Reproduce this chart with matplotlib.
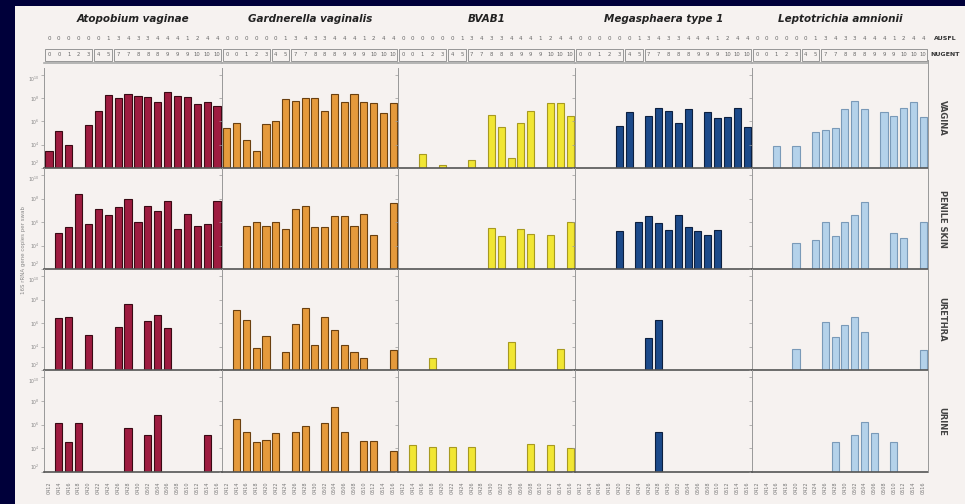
import matplotlib.pyplot as plt
from matplotlib.patches import Rectangle
import numpy as np

# organisms (columns) and sites (rows)
organisms = ['Atopobium vaginae', 'Gardnerella vaginalis', 'BVAB1',
             'Megasphaera type 1', 'Leptotrichia amnionii']
sites = ['VAGINA', 'PENILE SKIN', 'URETHRA', 'URINE']
colors = ['#9e1c40', '#e59a3c', '#f1e634', '#1c4a8a', '#b4d2ea']
edges = ['#3a0a14', '#6a4010', '#a89a20', '#0c2040', '#7a9ab8']

# header rows
amsel = [0, 0, 0, 0, 0, 0, 1, 3, 4, 3, 3, 4, 4, 4, 1, 2, 4, 4]
nugent = [0, 0, 1, 2, 3, 4, 5, 7, 7, 8, 8, 8, 9, 9, 9, 10, 10, 10]
nugent_groups = [(1, 5), (6, 7), (8, 18)]
samples = ['0412', '0414', '0416', '0418', '0420', '0422', '0424', '0426', '0428',
           '0430', '0502', '0504', '0506', '0508', '0510', '0512', '0514', '0516']

# log10 copies per sample day (day: value), missing day = not detected
atopobium = [
    {1: 3.5, 2: 5.2, 3: 4.0, 5: 5.7, 6: 6.9, 7: 8.3, 8: 8.0, 9: 8.4, 10: 8.2, 11: 8.1,
     12: 7.7, 13: 8.5, 14: 8.2, 15: 8.1, 16: 7.5, 17: 7.7, 18: 7.3},
    {2: 5.1, 3: 5.6, 4: 8.4, 5: 5.8, 6: 7.1, 7: 6.6, 8: 7.3, 9: 8.0, 10: 6.0, 11: 7.4,
     12: 6.9, 13: 7.8, 14: 5.4, 15: 6.7, 16: 5.7, 17: 5.8, 18: 7.8},
    {2: 6.4, 3: 6.5, 5: 5.0, 8: 5.7, 9: 7.6, 11: 6.2, 12: 6.7, 13: 5.6},
    {2: 6.1, 3: 4.5, 4: 6.1, 9: 5.7, 11: 5.1, 12: 6.8, 17: 5.1},
]
gardnerella = [
    {1: 5.4, 2: 5.9, 3: 4.4, 4: 3.5, 5: 5.8, 6: 6.0, 7: 7.9, 8: 7.8, 9: 8.0, 10: 8.0,
     11: 6.9, 12: 8.4, 13: 7.7, 14: 8.4, 15: 7.7, 16: 7.6, 17: 6.7, 18: 7.6},
    {3: 5.7, 4: 6.0, 5: 5.7, 6: 6.0, 7: 5.4, 8: 7.1, 9: 7.4, 10: 5.6, 11: 5.6, 12: 6.5,
     13: 6.5, 14: 5.7, 15: 6.7, 16: 4.9, 18: 7.6},
    {2: 7.1, 3: 6.3, 4: 3.9, 5: 4.9, 7: 3.5, 8: 5.9, 9: 7.3, 10: 4.1, 11: 6.5, 12: 5.4,
     13: 4.1, 14: 3.5, 15: 3.0, 18: 3.7},
    {2: 6.5, 3: 5.4, 4: 4.5, 5: 4.7, 6: 5.3, 8: 5.4, 9: 5.9, 11: 6.1, 12: 7.5, 13: 5.4,
     15: 4.6, 16: 4.6, 18: 3.8},
]
bvab1 = [
    {3: 3.2, 5: 2.3, 8: 2.7, 10: 6.6, 11: 5.5, 12: 2.9, 13: 5.9, 14: 6.9, 16: 7.6,
     17: 7.6, 18: 6.5},
    {10: 5.5, 11: 4.8, 13: 5.4, 14: 5.0, 16: 4.9, 18: 6.0},
    {4: 3.0, 12: 4.4, 17: 3.8},
    {2: 4.3, 4: 4.1, 6: 4.1, 8: 4.1, 14: 4.4, 16: 4.3, 18: 4.0},
]
megasphaera = [
    {5: 5.6, 6: 6.8, 8: 6.5, 9: 7.2, 10: 6.9, 11: 5.9, 12: 7.1, 14: 6.8, 15: 6.3,
     16: 6.4, 17: 7.2, 18: 5.5},
    {5: 5.2, 7: 6.0, 8: 6.5, 9: 5.9, 10: 5.3, 11: 6.6, 12: 5.6, 13: 5.2, 14: 4.9, 15: 5.3},
    {8: 4.7, 9: 6.3},
    {9: 5.4},
]
leptotrichia = [
    {3: 3.9, 5: 3.9, 7: 5.1, 8: 5.3, 9: 5.4, 10: 7.1, 11: 7.8, 12: 7.1, 14: 6.8,
     15: 6.5, 16: 7.2, 17: 7.7, 18: 6.4},
    {5: 4.2, 7: 4.5, 8: 6.0, 9: 4.8, 10: 6.0, 11: 6.6, 12: 7.7, 15: 5.1, 16: 4.6, 18: 6.0},
    {5: 3.8, 8: 6.1, 9: 4.8, 10: 5.8, 11: 6.5, 12: 5.2, 18: 3.7},
    {9: 4.5, 11: 5.1, 12: 6.2, 13: 5.3, 15: 4.5},
]
data = [atopobium, gardnerella, bvab1, megasphaera, leptotrichia]

W, H = 965, 504
fig = plt.figure(figsize=(W / 100, H / 100), dpi=100, facecolor='#00003a')
paper = '#f6f2f0'
fig.patches.append(Rectangle((15 / W, 0), 1 - 15 / W, 1 - 6 / H, transform=fig.transFigure,
                             facecolor=paper, edgecolor='none', zorder=-10))

xe = [44, 222, 398, 575, 752, 928]
ye = [68, 168, 269, 370, 472]
base = 2.0
days = np.arange(1, 19)

for c in range(5):
    # column title and header rows
    xm = (xe[c] + xe[c + 1]) / 2 / W
    fig.text(xm, 1 - 19 / H, organisms[c], ha='center', va='center', fontsize=7.5,
             fontweight='bold', style='italic', color='#222222', family='Liberation Sans Narrow')
    step = (xe[c + 1] - xe[c]) / 18
    for i in range(18):
        xx = (xe[c] + (i + 0.5) * step) / W
        fig.text(xx, 1 - 39 / H, str(amsel[i]), ha='center', va='center', fontsize=4,
                 color='#666666')
        fig.text(xx, 1 - 55 / H, str(nugent[i]), ha='center', va='center', fontsize=3.8,
                 color='#666666')
        fig.text(xx, 1 - 488 / H, samples[i], ha='center', va='center', fontsize=3.5,
                 color='#777777', rotation=90)
    for g0, g1 in nugent_groups:
        x0 = (xe[c] + (g0 - 1) * step + 1) / W
        x1 = (xe[c] + g1 * step - 1) / W
        fig.patches.append(Rectangle((x0, 1 - 61 / H), x1 - x0, 12 / H,
                                     transform=fig.transFigure, fill=False,
                                     edgecolor='#888888', lw=0.6))
    fig.add_artist(plt.Line2D([xe[c] / W, xe[c + 1] / W], [1 - 63 / H] * 2,
                              transform=fig.transFigure, color='#aaaaaa', lw=1.2))

    for r in range(4):
        ax = fig.add_axes([xe[c] / W, 1 - ye[r + 1] / H, (xe[c + 1] - xe[c]) / W,
                           (ye[r + 1] - ye[r]) / H])
        ax.set_facecolor('none')
        vals = data[c][r]
        pos = [d for d in days if d in vals]
        hts = [vals[d] - base for d in pos]
        ax.bar(pos, hts, bottom=base, width=0.72, color=colors[c], edgecolor=edges[c],
               linewidth=0.8)
        ax.set_xlim(0.5, 18.5)
        ax.set_ylim(base, 10.6)
        ax.set_yticks([2, 4, 6, 8, 10])
        ax.set_xticks([])
        for s in ['top', 'right']:
            ax.spines[s].set_visible(False)
        ax.spines['bottom'].set_color('#555555')
        ax.spines['bottom'].set_linewidth(1.2)
        ax.spines['left'].set_color('#999999')
        ax.spines['left'].set_linewidth(0.7)
        if c == 0:
            labs = ax.set_yticklabels(['10$^{2}$', '10$^{4}$', '10$^{6}$', '10$^{8}$',
                                       '10$^{10}$'], fontsize=3.3, color='#888888')
            labs[0].set_verticalalignment('bottom')
            labs[-1].set_verticalalignment('top')
            ax.tick_params(axis='y', length=2, width=0.5, color='#999999', pad=1)
        else:
            ax.tick_params(axis='y', length=2, width=0.5, color='#999999',
                           labelleft=False)
        if c == 4:
            fig.text(942 / W, 1 - (ye[r] + ye[r + 1]) / 2 / H, sites[r], rotation=-90,
                     ha='center', va='center', fontsize=6, fontweight='bold',
                     color='#444444')

# right edge line of last column
fig.add_artist(plt.Line2D([928 / W] * 2, [1 - 472 / H, 1 - 60 / H],
                          transform=fig.transFigure, color='#999999', lw=0.7))
fig.text(945 / W, 1 - 39 / H, 'AUSFL', ha='center', va='center', fontsize=4.5,
         fontweight='bold', color='#333333')
fig.text(945 / W, 1 - 55 / H, 'NUGENT', ha='center', va='center', fontsize=4.5,
         fontweight='bold', color='#333333')
fig.text(24 / W, 1 - 250 / H, '16S rRNA gene copies per swab', rotation=90,
         ha='center', va='center', fontsize=4, color='#888888')

fig.savefig('out.png', dpi=100, facecolor=fig.get_facecolor())
